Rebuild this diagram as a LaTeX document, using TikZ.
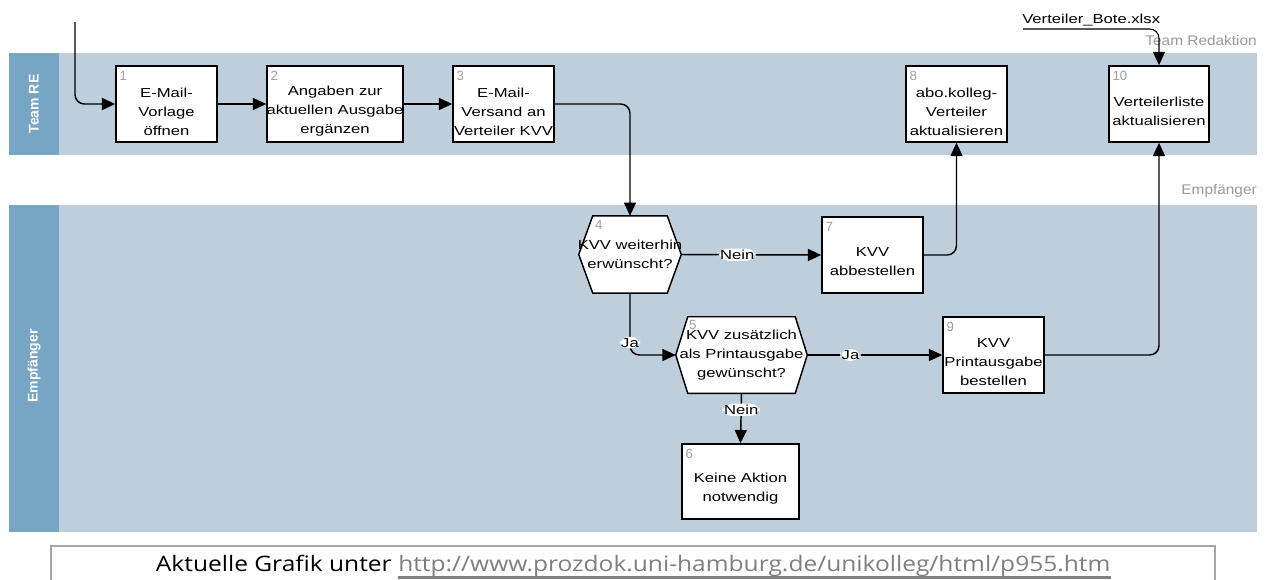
\documentclass[tikz,border=0pt]{standalone}
\usepackage{fontspec}
\setmainfont{Liberation Sans}
\newfontfamily\boxfont[FakeStretch=1.28]{Liberation Sans}
\newfontfamily\greyfont[FakeStretch=1.1]{Liberation Sans}
\newfontfamily\footfont[FakeStretch=1.15]{Open Sans}
\usetikzlibrary{arrows.meta,calc}
\definecolor{lanebg}{HTML}{BFCEDB}
\definecolor{lanehd}{HTML}{77A5C4}
\definecolor{numgray}{HTML}{A0A0A0}
\definecolor{lblgray}{HTML}{9A9A9A}
\definecolor{urlgray}{HTML}{7F7F7F}
\definecolor{framegray}{HTML}{A6A6A6}
\begin{document}
\begin{tikzpicture}[x=0.75pt,y=-0.75pt,
  box/.style={draw=black,line width=1.1pt,fill=white,inner sep=0pt,minimum width=#1,minimum height=57pt},
  hexbox/.style={draw=none,inner sep=0pt,minimum width=#1,minimum height=57.5pt},
  hexline/.style={draw=black,line width=1.1pt,fill=white},
  txt/.style={font=\boxfont\fontsize{9.75pt}{14.2pt}\selectfont,align=center,inner sep=0pt},
  num/.style={font=\fontsize{10pt}{12pt}\selectfont,text=numgray,anchor=north west,inner sep=0pt},
  lbl/.style={font=\boxfont\fontsize{9.75pt}{12pt}\selectfont,fill=white,inner sep=1pt},
  conn/.style={line width=1.1pt,-{Triangle[length=10pt,width=9pt]},rounded corners=7pt},
  grey/.style={font=\greyfont\fontsize{10.5pt}{12pt}\selectfont,text=lblgray,inner sep=0pt},
  lanetxt/.style={rotate=90,text=white,font=\bfseries\fontsize{10.5pt}{12pt}\selectfont,inner sep=0pt}
]
\useasboundingbox[fill=white] (0,0) rectangle (1267,579);

% lanes
\fill[lanebg] (59,53) rectangle (1257,155);
\fill[lanehd] (9,53) rectangle (59,155);
\fill[lanebg] (59,205) rectangle (1257,532);
\fill[lanehd] (9,205) rectangle (59,532);
\node[lanetxt] (laneRE) at (34,104) {Team RE};
\node[lanetxt] (laneEM) at (34,366) {Empfänger};
\node[grey,anchor=east] (lblRed) at (1257,40) {Team Redaktion};
\node[grey,anchor=east] (lblEmp) at (1257,191) {Empfänger};

% boxes
\node[box=75.75pt] (b1) at (166.5,104) {};
\node[box=102pt] (b2) at (335,104) {};
\node[box=75.75pt] (b3) at (503.5,104) {};
\node[box=75.75pt] (b8) at (956.5,104) {};
\node[box=75pt] (b10) at (1159,104) {};
\node[box=75.75pt] (b7) at (872.5,255) {};
\node[box=75.75pt] (b9) at (993.5,355) {};
\node[box=87.75pt,minimum height=56.25pt] (b6) at (740.5,481.5) {};

% hexagons
\node[hexbox=76.5pt] (h4) at (630,254.5) {};
\node[hexbox=98.25pt,minimum height=57pt] (h5) at (741.5,355) {};
\draw[hexline] (h4.west) -- ($(h4.north west)+(14,0)$) -- ($(h4.north east)+(-14,0)$) -- (h4.east)
  -- ($(h4.south east)+(-14,0)$) -- ($(h4.south west)+(14,0)$) -- cycle;
\draw[hexline] (h5.west) -- ($(h5.north west)+(12,0)$) -- ($(h5.north east)+(-12,0)$) -- (h5.east)
  -- ($(h5.south east)+(-12,0)$) -- ($(h5.south west)+(12,0)$) -- cycle;

% numbers
\node[num] (n1) at ($(b1.north west)+(4,6)$) {1};
\node[num] (n2) at ($(b2.north west)+(4,6)$) {2};
\node[num] (n3) at ($(b3.north west)+(4,6)$) {3};
\node[num] (n8) at ($(b8.north west)+(4,6)$) {8};
\node[num] (n10) at ($(b10.north west)+(4,6)$) {10};
\node[num] (n7) at ($(b7.north west)+(4,6)$) {7};
\node[num] (n9) at ($(b9.north west)+(4,6)$) {9};
\node[num] (n6) at ($(b6.north west)+(4,6)$) {6};
\node[num] (n4) at ($(h4.north west)+(16,4)$) {4};
\node[num] (n5) at ($(h5.north west)+(13,3)$) {5};

% texts
\node[txt] (t1) at ($(b1)+(0,7.5)$) {E-Mail-\\Vorlage\\öffnen};
\node[txt] (t2) at ($(b2)+(0,7.5)$) {Angaben zur\\aktuellen Ausgabe\\ergänzen};
\node[txt] (t3) at ($(b3)+(0,7.5)$) {E-Mail-\\Versand an\\Verteiler KVV};
\node[txt] (t8) at ($(b8)+(0,7.5)$) {abo.kolleg-\\Verteiler\\aktualisieren};
\node[txt] (t10) at ($(b10)+(0,7.5)$) {Verteilerliste\\aktualisieren};
\node[txt] (t7) at ($(b7)+(0,7)$) {KVV\\abbestellen};
\node[txt] (t9) at ($(b9)+(0,7.5)$) {KVV\\Printausgabe\\bestellen};
\node[txt] (t6) at ($(b6)+(0,7)$) {Keine Aktion\\notwendig};
\node[txt] (t4) at ($(h4)+(0,-0.5)$) {KVV weiterhin\\erwünscht?};
\node[txt] (t5) at (h5) {KVV zusätzlich\\als Printausgabe\\gewünscht?};

% external input
\coordinate (start) at (75,22);
\node[txt,anchor=base west] (xlsx) at (1022,23) {Verteiler\_Bote.xlsx};
\coordinate (vb) at (1023,29);

% connectors
\draw[conn] (start) |- (b1.west);
\draw[conn] (b1.east) -- (b2.west);
\draw[conn] (b2.east) -- (b3.west);
\draw[conn] (b3.east) -| (h4.north);
\draw[conn] (h4.east) -- node[lbl,pos=0.4] (lNein1) {Nein} (b7.west);
\draw[conn] (b7.east) -| (b8.south);
\draw[conn] (h4.south) |- node[lbl,pos=0.4] (lJa1) {Ja} (h5.west);
\draw[conn] (h5.east) -- node[lbl,pos=0.32] (lJa2) {Ja} (b9.west);
\draw[conn] (b9.east) -| (b10.south);
\draw[conn] (h5.south) -- node[lbl,pos=0.33] (lNein2) {Nein} (b6.north);
\draw[conn,line width=0.8pt] (vb) -| (b10.north);

% footer
\draw[framegray,line width=1.2pt] (51,582) -- (51,546) -- (1215,546) -- (1215,582);
\node[anchor=base west,font=\footfont\fontsize{16pt}{19pt}\selectfont,text=urlgray,inner sep=0pt] (url) at (398,571.5) {http://www.prozdok.uni-hamburg.de/unikolleg/html/p955.htm};
\node[anchor=base east,font=\footfont\fontsize{16pt}{19pt}\selectfont,text=black,inner sep=0pt] (ftxt) at ($(url.base west)+(-6,0)$) {Aktuelle Grafik unter};
\draw[urlgray,line width=2.2pt] ($(url.base west)+(0,6)$) -- ($(url.base east)+(0,6)$);
\end{tikzpicture}
\end{document}
